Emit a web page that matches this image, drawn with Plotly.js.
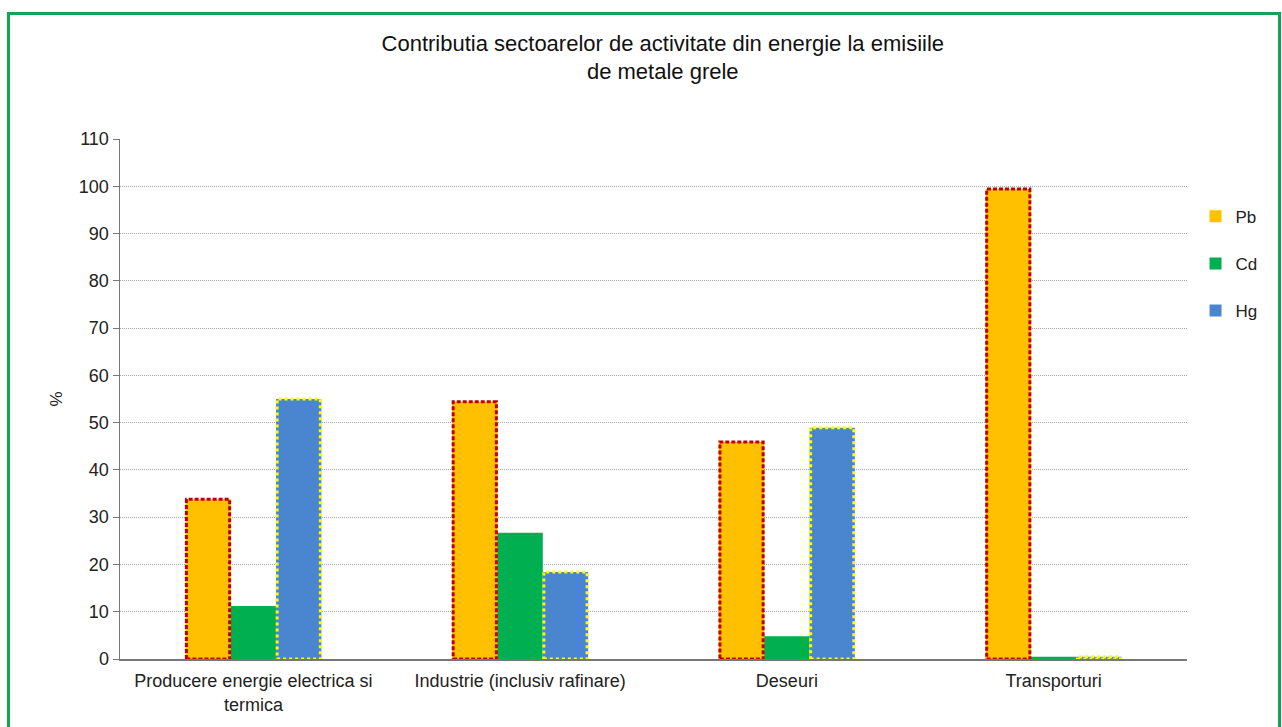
<!DOCTYPE html>
<html>
<head>
<meta charset="utf-8">
<script src="https://cdn.plot.ly/plotly-3.0.1.min.js"></script>
<style>
  html, body { margin: 0; padding: 0; background: #ffffff; overflow: hidden; }
  #chart { width: 1282px; height: 727px; }
  #frame {
    position: absolute; left: 7px; top: 12px; width: 1268px; height: 800px;
    border: 3px solid #17a255; pointer-events: none;
  }
</style>
</head>
<body>
<div id="chart"></div>
<div id="frame"></div>
<script>
// Sectors and the share (%) of each heavy metal's emissions they account for
const sectors = [
  'Producere energie electrica si<br>termica',
  'Industrie (inclusiv rafinare)',
  'Deseuri',
  'Transporturi'
];
const pb = [33.8, 54.4, 45.9, 99.4];
const cd = [11.2, 26.7, 4.8, 0.5];
const hg = [55.0, 18.4, 48.9, 0.5];
const yTicks = [0, 10, 20, 30, 40, 50, 60, 70, 80, 90, 100, 110];

// Bar geometry within each category slot
const barW = 0.17;
const offsets = [-1.5 * barW, -0.5 * barW, 0.5 * barW];

const series = [
  { name: 'Pb', values: pb, fill: '#ffc000', edge: '#c00000', dash: '4px,2px' },
  { name: 'Cd', values: cd, fill: '#00b050', edge: null, dash: null },
  { name: 'Hg', values: hg, fill: '#4a86d0', edge: '#ffff00', dash: '3px,3px' }
];

const traces = series.map((s, k) => ({
  type: 'bar',
  name: s.name,
  x: sectors,
  y: s.values,
  width: sectors.map(() => barW),
  offset: sectors.map(() => offsets[k]),
  marker: { color: s.fill, line: { width: 0 } },
  legendgroup: s.name,
  hoverinfo: 'x+y+name'
}));

// Dashed / dotted outlines around the Pb and Hg bars
const shapes = [];
series.forEach((s, k) => {
  if (!s.edge) return;
  s.values.forEach((v, i) => {
    shapes.push({
      type: 'rect', xref: 'x', yref: 'y', layer: 'above',
      x0: i + offsets[k] + 0.004, x1: i + offsets[k] + barW - 0.004,
      y0: 0, y1: v,
      line: { color: s.edge, width: 3, dash: s.dash },
      fillcolor: 'rgba(0,0,0,0)'
    });
  });
});

const layout = {
  width: 1282,
  height: 727,
  margin: { l: 120, r: 95, t: 139, b: 68 },
  paper_bgcolor: '#ffffff',
  plot_bgcolor: '#ffffff',
  font: { family: 'Liberation Sans, Arial, sans-serif', size: 18, color: '#222222' },
  title: {
    text: 'Contributia sectoarelor de activitate din energie la emisiile<br>de metale grele',
    font: { size: 22, color: '#111111' },
    x: 0.517, xanchor: 'center',
    yref: 'container', y: 0.93, yanchor: 'top'
  },
  barmode: 'group',
  showlegend: true,
  legend: {
    x: 1.008, xanchor: 'left',
    y: 0.885, yanchor: 'top',
    font: { size: 17, color: '#222222' },
    tracegroupgap: 22,
    itemwidth: 30,
    bgcolor: 'rgba(0,0,0,0)'
  },
  xaxis: {
    type: 'category',
    showline: true, linecolor: '#777777', linewidth: 1.5,
    ticks: '', showgrid: false, zeroline: false,
    tickfont: { size: 18, color: '#222222' },
    ticklabelstandoff: 5,
    fixedrange: true
  },
  yaxis: {
    range: [0, 110],
    tickvals: yTicks,
    ticktext: yTicks.map(String),
    showline: true, linecolor: '#777777', linewidth: 1.5,
    ticks: 'outside', ticklen: 6, tickcolor: '#777777',
    showgrid: true, gridcolor: '#a8a8a8', griddash: '1px,1px', gridwidth: 1,
    zeroline: false,
    tickfont: { size: 18, color: '#222222' },
    title: { text: '%', font: { size: 17, color: '#222222' }, standoff: 12 },
    fixedrange: true
  },
  shapes: shapes
};

Plotly.newPlot('chart', traces, layout, { displayModeBar: false, staticPlot: true });
</script>
</body>
</html>
